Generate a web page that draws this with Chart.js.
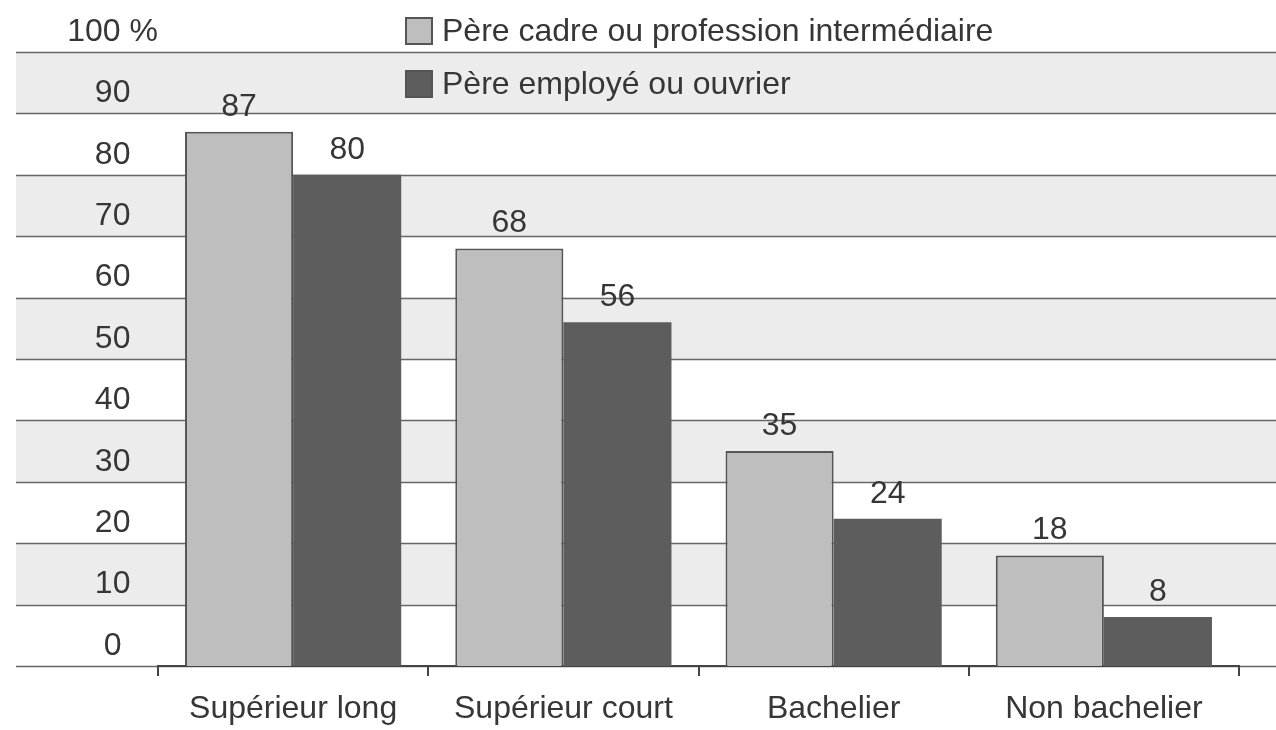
<!DOCTYPE html>
<html>
<head>
<meta charset="utf-8">
<script src="https://cdn.jsdelivr.net/npm/chart.js@4/dist/chart.umd.min.js"></script>
<style>
  html, body { margin: 0; padding: 0; background: #ffffff; }
  #wrap { width: 1276px; height: 730px; position: relative; }
</style>
</head>
<body>
<div id="wrap"><canvas id="c" width="1276" height="730"></canvas></div>
<script>
// ---- Data ----
const categories = ['Supérieur long', 'Supérieur court', 'Bachelier', 'Non bachelier'];
const seriesNames = ['Père cadre ou profession intermédiaire', 'Père employé ou ouvrier'];
const cadreValues = [87, 68, 35, 18];
const employeValues = [80, 56, 24, 8];
const yTickValues = [0, 10, 20, 30, 40, 50, 60, 70, 80, 90, 100];
const yTopLabel = '100 %';

// ---- Styles ----
const FONT = "'Liberation Sans', Arial, sans-serif";
const TEXT = '#363636';
const LIGHT = '#bebebe';
const DARK = '#5d5d5d';
const BAND = '#ececec';
const GRID = '#666666';

const bandsPlugin = {
  id: 'bands',
  beforeDraw(chart) {
    const ctx = chart.ctx;
    const y = chart.scales.y;
    const x0 = 16, x1 = chart.width;
    ctx.save();
    ctx.fillStyle = '#ffffff';
    ctx.fillRect(0, 0, chart.width, chart.height);
    for (let i = 0; i < yTickValues.length - 1; i++) {
      const lo = yTickValues[i], hi = yTickValues[i + 1];
      if (i % 2 === 1) {
        const yt = y.getPixelForValue(hi), yb = y.getPixelForValue(lo);
        ctx.fillStyle = BAND;
        ctx.fillRect(x0, yt, x1 - x0, yb - yt);
      }
    }
    ctx.strokeStyle = GRID;
    ctx.lineWidth = 1.5;
    yTickValues.forEach(v => {
      const py = Math.round(y.getPixelForValue(v)) + 0.5;
      ctx.beginPath();
      ctx.moveTo(x0, py);
      ctx.lineTo(x1, py);
      ctx.stroke();
    });
    ctx.restore();
  }
};

const labelsPlugin = {
  id: 'valueLabels',
  afterDatasetsDraw(chart) {
    const ctx = chart.ctx;
    ctx.save();
    ctx.font = '32px ' + FONT;
    ctx.fillStyle = TEXT;
    ctx.textAlign = 'center';
    ctx.textBaseline = 'alphabetic';
    chart.data.datasets.forEach((ds, di) => {
      const meta = chart.getDatasetMeta(di);
      meta.data.forEach((bar, i) => {
        ctx.fillText(String(ds.data[i]), bar.x, bar.y - 16);
      });
    });
    // legend
    const rows = [{ y: 31 }, { y: 84 }];
    chart.data.datasets.forEach((ds, di) => {
      const cy = rows[di].y;
      const bx = 405, bs = 28;
      ctx.fillStyle = ds.backgroundColor;
      ctx.fillRect(bx, cy - bs / 2, bs, bs);
      ctx.strokeStyle = '#555555';
      ctx.lineWidth = 2;
      ctx.strokeRect(bx + 1, cy - bs / 2 + 1, bs - 2, bs - 2);
      ctx.fillStyle = TEXT;
      ctx.textAlign = 'left';
      ctx.textBaseline = 'middle';
      ctx.fillText(ds.label, 442, cy + 1);
    });
    ctx.restore();
  }
};

new Chart(document.getElementById('c'), {
  type: 'bar',
  data: {
    labels: categories,
    datasets: [
      { label: seriesNames[0], data: cadreValues, backgroundColor: LIGHT, borderColor: '#555555', borderWidth: 2,
        categoryPercentage: 0.8, barPercentage: 1.0 },
      { label: seriesNames[1], data: employeValues, backgroundColor: DARK, borderWidth: 0,
        categoryPercentage: 0.8, barPercentage: 1.0 }
    ]
  },
  options: {
    responsive: false,
    animation: false,
    devicePixelRatio: 1,
    layout: { padding: { top: 52, left: 0, right: 37, bottom: 0 } },
    plugins: { legend: { display: false }, tooltip: { enabled: false } },
    scales: {
      x: {
        grid: { display: true, drawOnChartArea: false, drawTicks: true, tickLength: 10, color: '#444444', lineWidth: 2 },
        border: { display: true, color: '#444444', width: 2 },
        ticks: { color: TEXT, font: { family: FONT, size: 32 }, padding: 14 },
        afterFit(scale) { scale.height = 64; }
      },
      y: {
        min: 0, max: 100,
        grid: { display: false, drawTicks: false },
        border: { display: false },
        ticks: {
          stepSize: 10,
          color: TEXT,
          font: { family: FONT, size: 32 },
          crossAlign: 'center',
          padding: 0,
          labelOffset: -20,
          callback: (v) => v === 100 ? yTopLabel : String(v)
        },
        afterFit(scale) { scale.width = 158; }
      }
    }
  },
  plugins: [bandsPlugin, labelsPlugin]
});
</script>
</body>
</html>
